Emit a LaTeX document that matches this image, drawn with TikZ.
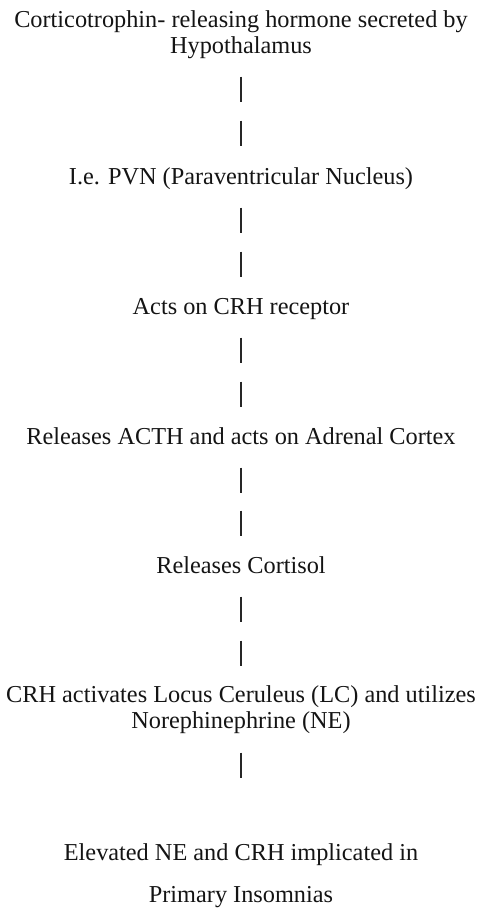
\documentclass[tikz,border=0pt]{standalone}
\usepackage{fontspec}
\setmainfont{Liberation Serif}
\begin{document}
\begin{tikzpicture}[x=1pt,y=-1pt,
  txt/.style={anchor=base, inner sep=0pt, font=\fontsize{24.3}{29}\selectfont, text=black!92},
  bar/.style={draw=black!85, line width=1.2pt}]
\useasboundingbox (0,0) rectangle (478,908);
\def\cx{241}
% text lines
\node[txt] (t1a) at (\cx,27) {Corticotrophin- releasing hormone secreted by};
\node[txt] (t1b) at (\cx,53) {Hypothalamus};
\node[txt] (t2) at (\cx,184) {I.e. PVN (Paraventricular Nucleus)};
\node[txt] (t3) at (\cx,314) {Acts on CRH receptor};
\node[txt] (t4) at (\cx,444) {Releases ACTH and acts on Adrenal Cortex};
\node[txt] (t5) at (\cx,573) {Releases Cortisol};
\node[txt] (t6a) at (\cx,702) {CRH activates Locus Ceruleus (LC) and utilizes};
\node[txt] (t6b) at (\cx,728) {Norephinephrine (NE)};
\node[txt] (t7a) at (\cx,860) {Elevated NE and CRH implicated in};
\node[txt] (t7b) at (\cx,902) {Primary Insomnias};
% bars
\foreach \n/\c in {a/89,b/133,c/220,d/264,e/350,f/394,g/480,h/523,i/609,j/653,k/765}{
  \coordinate (\n top) at (\cx,\c-12.5);
  \coordinate (\n bot) at (\cx,\c+12.5);
  \draw[bar] (\n top) -- (\n bot);
}
\end{tikzpicture}
\end{document}
